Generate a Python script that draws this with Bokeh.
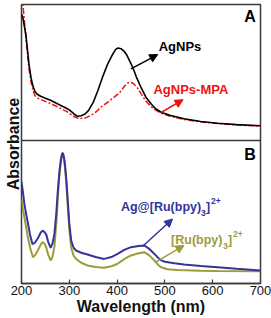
from bokeh.plotting import figure
from bokeh.models import Range1d, Span, Label, Arrow, NormalHead, FixedTicker
from bokeh.embed import file_html
from bokeh.resources import INLINE

# ---- Panel A data (normalised absorbance) ----
wl_agnps = [200, 203, 206, 209, 213, 216, 220, 224, 228, 233, 240, 250, 262, 275, 290, 300, 310, 317,
            325, 333, 340, 350, 360, 370, 380, 390, 397, 402, 408, 415, 420, 427, 433, 440, 450, 460,
            471, 480, 492, 510, 540, 575, 610, 650, 700]
abs_agnps = [0.93, 0.90, 0.84, 0.78, 0.65, 0.55, 0.46, 0.40, 0.36, 0.34, 0.325, 0.31, 0.294, 0.27, 0.245,
             0.225, 0.195, 0.178, 0.182, 0.195, 0.22, 0.28, 0.37, 0.47, 0.56, 0.63, 0.67, 0.68, 0.675,
             0.655, 0.63, 0.58, 0.535, 0.47, 0.39, 0.32, 0.27, 0.235, 0.208, 0.185, 0.16, 0.14, 0.127,
             0.117, 0.108]

wl_mpa = [200, 203, 206, 209, 213, 216, 220, 224, 228, 235, 245, 262, 280, 297, 310, 321, 333, 345, 356,
          366, 380, 394, 405, 415, 421, 426, 431, 436, 443, 450, 460, 471, 480, 492, 510, 540, 575, 610,
          650, 700]
abs_mpa = [1.15, 1.0, 0.88, 0.77, 0.62, 0.52, 0.43, 0.37, 0.33, 0.31, 0.295, 0.27, 0.24, 0.208, 0.175,
           0.16, 0.165, 0.184, 0.21, 0.245, 0.28, 0.319, 0.35, 0.397, 0.42, 0.43, 0.425, 0.412, 0.385,
           0.345, 0.29, 0.25, 0.225, 0.201, 0.18, 0.155, 0.137, 0.125, 0.115, 0.105]

# ---- Panel B data ----
wl_agru = [200, 203, 206, 210, 213, 218, 223, 228, 234, 240, 244, 248, 252, 256, 261, 265, 269, 273, 276,
           279, 282, 285, 287, 289, 291, 294, 297, 300, 304, 309, 314, 325, 338, 355, 373, 388, 401, 415,
           429, 445, 457, 468, 478, 490, 500, 520, 540, 575, 610, 650, 700]
abs_agru = [0.71, 0.64, 0.557, 0.48, 0.43, 0.34, 0.275, 0.285, 0.315, 0.355, 0.37, 0.36, 0.34, 0.29, 0.25,
            0.28, 0.35, 0.5, 0.65, 0.77, 0.86, 0.91, 0.91, 0.88, 0.83, 0.72, 0.57, 0.42, 0.30, 0.25,
            0.231, 0.215, 0.203, 0.185, 0.172, 0.185, 0.207, 0.235, 0.254, 0.262, 0.266, 0.24, 0.207,
            0.165, 0.152, 0.142, 0.133, 0.122, 0.114, 0.103, 0.091]

wl_ru = [200, 203, 206, 210, 213, 218, 224, 229, 234, 240, 244, 248, 252, 256, 261, 265, 269, 273, 276,
         279, 282, 285, 287, 289, 291, 294, 297, 300, 304, 309, 314, 325, 338, 355, 373, 388, 401, 415,
         429, 445, 457, 468, 478, 486, 492, 505, 526, 575, 610, 700]
abs_ru = [0.59, 0.52, 0.464, 0.39, 0.33, 0.25, 0.184, 0.2, 0.231, 0.27, 0.289, 0.28, 0.25, 0.2, 0.161,
          0.19, 0.26, 0.43, 0.6, 0.74, 0.84, 0.9, 0.9, 0.87, 0.81, 0.69, 0.53, 0.38, 0.25, 0.195, 0.172,
          0.145, 0.126, 0.115, 0.11, 0.12, 0.138, 0.17, 0.196, 0.212, 0.219, 0.195, 0.161, 0.13, 0.114,
          0.1, 0.094, 0.089, 0.087, 0.086]

x_ticks = [200, 300, 400, 500, 600, 700]

FONT = "Liberation Sans"
BLACK = "#000000"
RED = "#ee1111"
BLUE = "#34349a"
OLIVE = "#9c9c3a"
FRAME = "#3a3a3a"

# frame: 279 px tall; panel A 136 px (top), panel B 143 px (bottom)
HA, HB = 136, 143
p = figure(width=271, height=318, x_range=Range1d(200, 700), y_range=Range1d(0, (HA + HB) / HB),
           output_backend="svg", toolbar_location=None,
           min_border_left=21, min_border_right=11, min_border_top=4, min_border_bottom=35)
p.extra_y_ranges = {"A": Range1d(-HB / HA, 1)}
p.xgrid.visible = False
p.ygrid.visible = False
p.outline_line_color = FRAME
p.outline_line_width = 1.5
p.background_fill_color = "white"
p.border_fill_color = "white"

ax = p.xaxis[0]
ax.ticker = FixedTicker(ticks=x_ticks)
ax.major_tick_in = 4
ax.major_tick_out = 0
ax.minor_tick_line_color = None
ax.major_tick_line_color = FRAME
ax.major_tick_line_width = 1.2
ax.axis_line_color = FRAME
ax.axis_line_width = 1.5
ax.major_label_text_font = FONT
ax.major_label_text_font_size = "13px"
ax.major_label_text_color = "#111111"
ax.major_label_standoff = 2
ax.axis_label = "Wavelength (nm)"
ax.axis_label_text_font = FONT
ax.axis_label_text_font_size = "16px"
ax.axis_label_text_font_style = "bold"
ax.axis_label_text_color = "#111111"
ax.axis_label_standoff = 0

ay = p.yaxis[0]
ay.ticker = FixedTicker(ticks=[])
ay.major_tick_in = 0
ay.major_tick_out = 0
ay.minor_tick_line_color = None
ay.major_label_text_font_size = "0px"
ay.major_label_standoff = 0
ay.axis_line_color = None
ay.axis_label = "Absorbance"
ay.axis_label_text_font = FONT
ay.axis_label_text_font_size = "16px"
ay.axis_label_text_font_style = "bold"
ay.axis_label_text_color = "#111111"
ay.axis_label_standoff = 0

# separator between panels
p.add_layout(Span(location=0, dimension="width", y_range_name="A", line_color=FRAME, line_width=1.5))

# curves
p.line(wl_mpa, abs_mpa, y_range_name="A", line_color=RED, line_width=1.5, line_dash="6 2 2 2")
p.line(wl_agnps, abs_agnps, y_range_name="A", line_color=BLACK, line_width=1.6)
p.line(wl_ru, abs_ru, line_color=OLIVE, line_width=2)
p.line(wl_agru, abs_agru, line_color=BLUE, line_width=2)

def lab(text, x, y, size, color, rng="default", align="left", xo=0, yo=0):
    p.add_layout(Label(x=x, y=y, text=text, y_range_name=rng, x_offset=xo, y_offset=yo,
                       text_font=FONT, text_font_size=size, text_color=color,
                       text_font_style="bold", text_align=align, text_baseline="middle"))

def arrow(x0, y0, x1, y1, color, rng="default"):
    p.add_layout(Arrow(x_start=x0, y_start=y0, x_end=x1, y_end=y1, y_range_name=rng,
                       line_color=color, line_width=1.5,
                       end=NormalHead(size=8, fill_color=color, line_color=color)))

# panel labels
lab("A", 678, 0.915, "16px", BLACK, rng="A", align="center")
lab("B", 678, 0.905, "16px", BLACK, align="center")

# panel A annotations
lab("AgNPs", 487, 0.69, "13px", BLACK, rng="A")
arrow(429, 0.527, 485, 0.632, BLACK, rng="A")
lab("AgNPs-MPA", 476, 0.375, "13px", RED, rng="A")
arrow(492, 0.206, 538, 0.30, RED, rng="A")

# panel B annotations
lab("Ag@[Ru(bpy)", 408, 0.538, "12.5px", BLUE)
lab("3", 408, 0.538, "8.5px", BLUE, xo=80, yo=-6)
lab("]", 408, 0.538, "12.5px", BLUE, xo=85)
lab("2+", 408, 0.538, "8.5px", BLUE, xo=90, yo=6)
arrow(453, 0.259, 516, 0.451, BLUE)

lab("[Ru(bpy)", 513, 0.301, "12.5px", OLIVE)
lab("3", 513, 0.301, "8.5px", OLIVE, xo=52, yo=-6)
lab("]", 513, 0.301, "12.5px", OLIVE, xo=57)
lab("2+", 513, 0.301, "8.5px", OLIVE, xo=62, yo=6)
arrow(481, 0.149, 540, 0.266, OLIVE)

open("out.html", "w").write(file_html(p, INLINE))
